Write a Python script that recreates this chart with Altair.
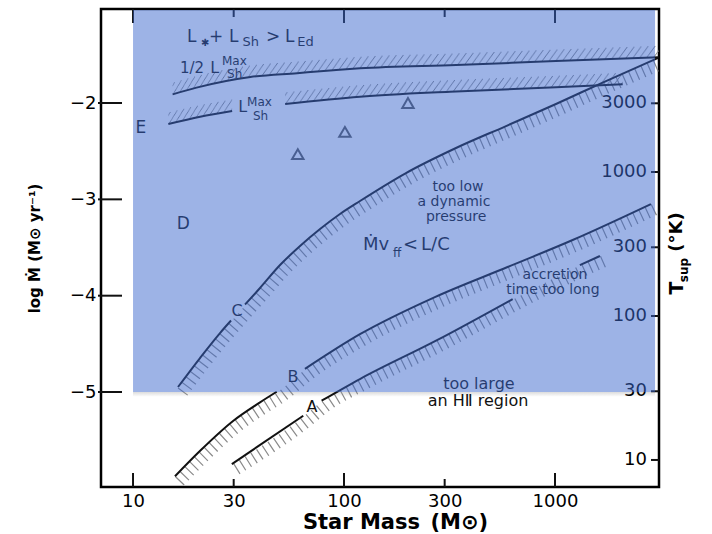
import altair as alt
import pandas as pd

W, H = 558, 478
FONT = "DejaVu Sans"
INK = "#111111"
HATCH = "#8a8a8a"

X_DOMAIN = [7.05, 3112]
Y_DOMAIN = [-5.986, -1.024]
T_DOMAIN = [6.49, 13550]

# ---- curves: star mass (M_sun) and log Mdot ----
half_m = [15.4, 20, 36, 60, 89, 119, 340, 1010, 3100]
half_l = [-1.91, -1.84, -1.73, -1.69, -1.66, -1.64, -1.605, -1.565, -1.526]

shmax1_m = [14.7, 20.8, 29.5]
shmax1_l = [-2.218, -2.142, -2.083]
shmax2_m = [52.6, 119, 318, 1012, 2094]
shmax2_l = [-2.01, -1.935, -1.883, -1.837, -1.806]

c1_m = [16.34, 20.77, 25.84, 29.14]
c1_l = [-4.948, -4.647, -4.388, -4.258]
c2_m = [33.95, 39.99, 49.75, 61.89, 77.0, 95.7, 119.1, 196.7, 339.5, 586.1, 1011, 1745, 3077]
c2_l = [-4.092, -3.920, -3.682, -3.484, -3.308, -3.152, -3.017, -2.727, -2.467, -2.239,
        -2.010, -1.772, -1.533]

b1_m = [15.8, 20.8, 29.9, 40, 48]
b1_l = [-5.875, -5.61, -5.298, -5.107, -4.997]
b2_m = [65.3, 119, 268, 600, 1213, 2850]
b2_l = [-4.76, -4.40, -4.017, -3.70, -3.422, -3.049]

a1_m = [29.4, 64.1]
a1_l = [-5.748, -5.246]
a2_m = [78.3, 119, 273, 630]
a2_l = [-5.09, -4.865, -4.467, -4.035]
a3_m = [1312, 1633]
a3_l = [-3.682, -3.588]

tri_m = [60.4, 101, 201]
tri_l = [-2.53, -2.30, -2.0]

# ---- axis ticks ----
x_labels = [10, 30, 100, 300, 1000]
x_major = [10, 100, 1000]
x_minor = [30, 300]
y_ticks = [-2, -3, -4, -5]
t_ticks = [10, 30, 100, 300, 1000, 3000]

# ---- annotation pieces (left aligned, alphabetic baseline) ----
seg_text = ["L", "\u2731", "+", "L", "Sh", ">", "L", "Ed",
            "1/2", "L", "Max", "Sh",
            "L", "Max", "Sh",
            "\u1e40v", "ff", "<", "L/C"]
seg_m = [18.0, 21.0, 22.9, 28.5, 33.0, 42.7, 52.5, 60.0,
         16.7, 23.2, 26.4, 27.9,
         31.5, 34.7, 37.0,
         123.0, 170.6, 190.6, 231.9]
seg_l = [-1.367, -1.405, -1.367, -1.367, -1.41, -1.367, -1.367, -1.41,
         -1.685, -1.685, -1.606, -1.744,
         -2.090, -2.031, -2.176,
         -3.526, -3.599, -3.526, -3.526]
seg_size = [17, 10, 17, 17, 13, 17, 17, 13,
            15, 16, 12, 12,
            16, 12, 12,
            18, 12, 18, 18]

# ---- centred annotations ----
lab_text = ["E", "D", "C", "B", "A", "too low", "a dynamic", "pressure",
            "accretion", "time too long", "too large", "an H\u2161 region"]
lab_m = [10.9, 17.3, 31.1, 57.3, 70.5, 347, 332, 340, 1000, 977, 436, 432]
lab_l = [-2.26, -3.256, -4.159, -4.844, -5.156, -2.872, -3.028, -3.183,
         -3.786, -3.941, -4.917, -5.094]
lab_size = [17, 17, 16, 16, 16, 14, 14, 14, 14, 14, 16, 16]

overlay_m = [10, 2980]
overlay_l = [-5.0, -1.035]
shadow_l = [-5.05, -5.0]

xs = alt.Scale(type="log", domain=X_DOMAIN, nice=False)
ys = alt.Scale(domain=Y_DOMAIN, nice=False, zero=False)
ts = alt.Scale(type="log", domain=T_DOMAIN, nice=False)

PX_L = 1 / 96.33     # one vertical pixel in log Mdot units


def df(m, l):
    return pd.DataFrame({"M": m, "L": l})


x_axis = alt.Axis(orient="bottom", values=x_labels, format="d", ticks=False, domain=False, grid=False,
                  labelFont=FONT, labelFontSize=18, labelColor="black", labelPadding=5,
                  title="Star Mass\u2002(M\u2299)", titleFont=FONT, titleFontSize=21,
                  titleFontWeight="bold", titleColor="black", titlePadding=1, titleX=294)
y_axis = alt.Axis(orient="left", values=y_ticks, format="d", ticks=False, domain=False, grid=False,
                  labelFont=FONT, labelFontSize=18, labelColor="black", labelPadding=5,
                  title="log \u1e40 (M\u2299 yr\u207b\u00b9)", titleFont=FONT, titleFontSize=15,
                  titleFontWeight="bold", titleColor="black", titlePadding=27)


def XE(field):
    return alt.X(field, scale=xs, axis=x_axis)


def YE(field):
    return alt.Y(field, scale=ys, axis=y_axis)


def line(d):
    return alt.Chart(d).mark_line(color=INK, strokeWidth=2, interpolate="monotone", clip=True).encode(
        x=XE("M:Q"), y=YE("L:Q"))


def perp_hatch(d):
    return alt.Chart(d).transform_calculate(
        Mh=f"datum.M * {10 ** (4.5 / 211)}", Lh=f"datum.L - {5 * PX_L}"
    ).mark_line(color=HATCH, strokeWidth=12, strokeDash=[1.2, 5.6], strokeCap="butt",
                interpolate="monotone", clip=True).encode(x=XE("Mh:Q"), y=YE("Lh:Q"))


def slant_hatch(d, n=11, period=7.0, shift=0.75):
    out = []
    for k in range(1, n + 1):
        off = (period - (k * shift) % period) % period
        out.append(alt.Chart(d).transform_calculate(Lh=f"datum.L + {k * PX_L}").mark_line(
            color=HATCH, strokeWidth=1.0, strokeDash=[1.1, period - 1.1], strokeDashOffset=off,
            interpolate="monotone", clip=True).encode(x=XE("M:Q"), y=YE("Lh:Q")))
    return out


half = df(half_m, half_l)
sh1, sh2 = df(shmax1_m, shmax1_l), df(shmax2_m, shmax2_l)
c1, c2 = df(c1_m, c1_l), df(c2_m, c2_l)
b1, b2 = df(b1_m, b1_l), df(b2_m, b2_l)
a1, a2, a3 = df(a1_m, a1_l), df(a2_m, a2_l), df(a3_m, a3_l)

layers = []

# soft shadow under the highlighted box (drawn first, beneath the figure)
layers.append(alt.Chart(pd.DataFrame({"M0": [overlay_m[0]], "M1": [overlay_m[1]],
                                      "L0": [shadow_l[0]], "L1": [shadow_l[1]]})).mark_rect(
    color=alt.Gradient(gradient="linear", x1=0, y1=0, x2=0, y2=1,
                       stops=[alt.GradientStop(color="#dcdcdc", offset=0),
                              alt.GradientStop(color="#ffffff", offset=1)])).encode(
    x=XE("M0:Q"), x2="M1:Q", y=YE("L1:Q"), y2="L0:Q"))

layers += slant_hatch(half) + slant_hatch(sh1) + slant_hatch(sh2)
layers += [perp_hatch(df(c1_m + c2_m, c1_l + c2_l)),
           perp_hatch(df(b1_m + b2_m, b1_l + b2_l)),
           perp_hatch(df(a1_m + a2_m + a3_m, a1_l + a2_l + a3_l))]
layers += [line(d) for d in (half, sh1, sh2, c1, c2, b1, b2, a1, a2, a3)]

layers.append(alt.Chart(df(tri_m, tri_l)).mark_point(
    shape="triangle-up", filled=False, size=130, strokeWidth=2, color=INK).encode(
    x=XE("M:Q"), y=YE("L:Q")))

segs = pd.DataFrame({"t": seg_text, "M": seg_m, "L": seg_l, "s": seg_size})
layers.append(alt.Chart(segs).mark_text(align="left", baseline="alphabetic", font=FONT, color=INK).encode(
    x=XE("M:Q"), y=YE("L:Q"), text="t:N", size=alt.Size("s:Q", scale=None)))

labs = pd.DataFrame({"t": lab_text, "M": lab_m, "L": lab_l, "s": lab_size})
layers.append(alt.Chart(labs).mark_text(align="center", baseline="middle", font=FONT, color=INK).encode(
    x=XE("M:Q"), y=YE("L:Q"), text="t:N", size=alt.Size("s:Q", scale=None)))

# ticks on the frame
for vals, ln in ((x_major, 14), (x_minor, 8)):
    d = pd.DataFrame({"M": vals})
    layers.append(alt.Chart(d).mark_rule(color=INK, strokeWidth=2).encode(
        x=XE("M:Q"), y=alt.value(H), y2=alt.value(H - ln)))
    layers.append(alt.Chart(d).mark_rule(color=INK, strokeWidth=2).encode(
        x=XE("M:Q"), y=alt.value(0), y2=alt.value(ln)))
layers.append(alt.Chart(pd.DataFrame({"L": y_ticks})).mark_rule(color=INK, strokeWidth=2).encode(
    y=YE("L:Q"), x=alt.value(-3), x2=alt.value(21)))

# right axis title pieces
one = pd.DataFrame({"k": [0]})
for txt, px, py, sz in (("T", 576, 279, 19), ("sup", 583, 261, 12), ("(\u00b0K)", 576, 223, 18)):
    layers.append(alt.Chart(one).mark_text(text=txt, angle=270, align="center", baseline="middle",
                                           font=FONT, fontWeight="bold", fontSize=sz,
                                           color="black").encode(x=alt.value(px), y=alt.value(py)))

main = alt.layer(*layers)

tdf = pd.DataFrame({"T": t_ticks})
tlayer = alt.layer(
    alt.Chart(tdf).mark_rule(color=INK, strokeWidth=2).encode(
        y=alt.Y("T:Q", scale=ts, axis=None), x=alt.value(W - 8), x2=alt.value(W)),
    alt.Chart(tdf).mark_text(align="right", baseline="middle", font=FONT, fontSize=18, color="black").encode(
        y=alt.Y("T:Q", scale=ts, axis=None), x=alt.value(W - 12), text=alt.Text("T:Q", format="d")),
)

overlay = alt.Chart(pd.DataFrame({"M0": [overlay_m[0]], "M1": [overlay_m[1]],
                                  "L0": [overlay_l[0]], "L1": [overlay_l[1]]})).mark_rect(
    color="#3c68cd", opacity=0.5).encode(
    x=XE("M0:Q"), x2="M1:Q",
    y=alt.Y("L0:Q", scale=ys, axis=None), y2="L1:Q")

chart = alt.layer(main, tlayer, overlay).resolve_scale(y="independent").properties(
    width=W, height=H, autosize="none",
    padding={"left": 101, "top": 9, "right": 53, "bottom": 47},
    background="white",
).configure_view(stroke="black", strokeWidth=2.5)

chart.save("out.html", embed_options={"renderer": "svg", "actions": False})
